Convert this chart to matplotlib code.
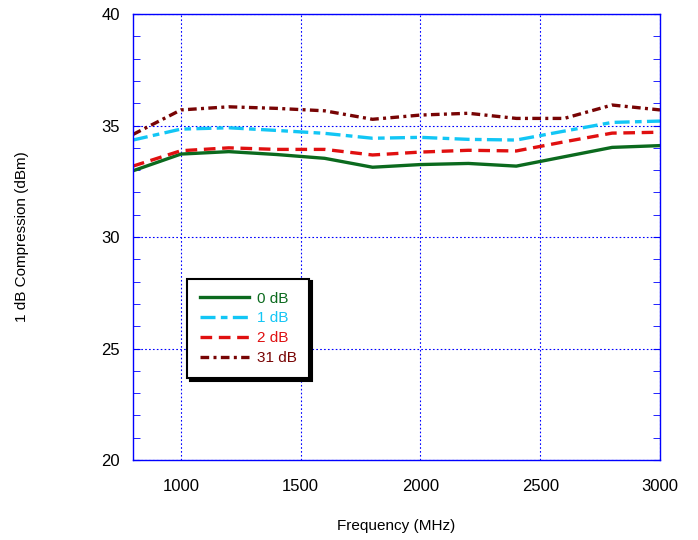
import matplotlib.pyplot as plt
from matplotlib.ticker import MultipleLocator

plt.rcParams['font.family'] = ['Liberation Sans', 'DejaVu Sans']

# data
freq = [800, 1000, 1200, 1400, 1600, 1800, 2000, 2200, 2400, 2600, 2800, 3000]
att_0db = [32.97, 33.72, 33.83, 33.70, 33.53, 33.13, 33.25, 33.30, 33.18, 33.60, 34.02, 34.10]
att_1db = [34.35, 34.84, 34.90, 34.78, 34.65, 34.43, 34.47, 34.38, 34.35, 34.75, 35.14, 35.20]
att_2db = [33.18, 33.87, 34.00, 33.93, 33.93, 33.68, 33.81, 33.89, 33.86, 34.27, 34.66, 34.70]
att_31db = [34.60, 35.70, 35.84, 35.77, 35.66, 35.28, 35.47, 35.55, 35.32, 35.32, 35.92, 35.70]

fig = plt.figure(figsize=(6.98, 5.4), dpi=100)
ax = fig.add_axes([0.1905, 0.1481, 0.7551, 0.8259])

ax.plot(freq, att_0db, color='#0b6a1e', lw=2.4, label='0 dB')
ax.plot(freq, att_1db, color='#12c6f5', lw=2.4, dashes=(4.5, 1.6, 2, 1.6), label='1 dB')
ax.plot(freq, att_2db, color='#e01010', lw=2.4, dashes=(3.5, 2), label='2 dB')
ax.plot(freq, att_31db, color='#780404', lw=2.4, dashes=(2.6, 1.3, 0.9, 1.3), label='31 dB')

ax.set_xlim(800, 3000)
ax.set_ylim(20, 40)
ax.set_xticks([1000, 1500, 2000, 2500, 3000])
ax.yaxis.set_major_locator(MultipleLocator(5))
ax.yaxis.set_minor_locator(MultipleLocator(1))
ax.grid(True, which='major', color='#0000ff', ls=(0, (1.5, 2)), lw=0.8)

for s in ax.spines.values():
    s.set_color('#0000ff')
    s.set_linewidth(1.0)
ax.tick_params(axis='y', which='both', direction='in', left=True, right=True,
               color='#0000ff', labelsize=12, pad=9.5, length=5)
ax.tick_params(axis='x', length=0, labelsize=12, pad=14)

ax.set_xlabel('Frequency (MHz)', fontsize=11, labelpad=18)
ax.set_ylabel('1 dB Compression (dBm)', fontsize=11, labelpad=52)

leg = ax.legend(loc='lower left', bbox_to_anchor=(0.1025, 0.184), borderaxespad=0,
                fontsize=11, fancybox=False, shadow={'color': 'black', 'alpha': 1},
                framealpha=1, edgecolor='black', handlelength=3.2, handletextpad=0.5,
                labelspacing=0.38, borderpad=0.85)
leg.get_frame().set_linewidth(1.5)
for txt, line in zip(leg.get_texts(), leg.get_lines()):
    txt.set_color(line.get_color())

fig.savefig('out.png', dpi=100)
